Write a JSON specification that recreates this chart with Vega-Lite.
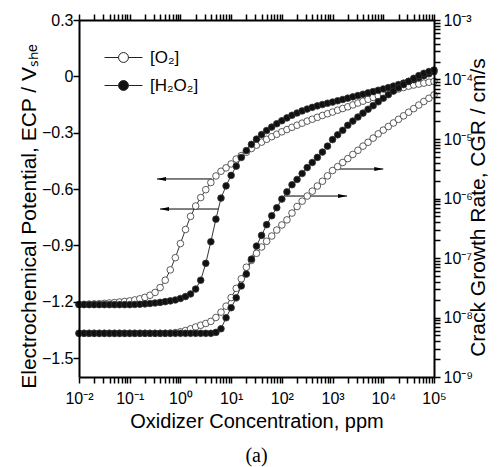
{
  "$schema": "https://vega.github.io/schema/vega-lite/v6.json",
  "width": 355,
  "height": 357,
  "autosize": {"type": "none"},
  "padding": {"left": 79, "top": 20, "right": 67, "bottom": 90},
  "background": "white",
  "config": {
    "view": {"stroke": null},
    "font": "Liberation Sans",
    "axis": {"grid": false, "domainColor": "black", "domainWidth": 2, "labelColor": "black", "labelFont": "Liberation Sans", "labelFontSize": 16, "titleFont": "Liberation Sans", "titleFontWeight": "normal", "titleColor": "black", "labelOverlap": false, "labelFlush": false, "labelBound": false}
  },
  "title": {"text": "(a)", "orient": "bottom", "anchor": "middle", "font": "Liberation Serif", "fontSize": 20, "fontWeight": "normal", "color": "black", "offset": 15},
  "datasets": {
    "arrE": [
      {"from": 4.2, "to": 0.345, "v": -0.546},
      {"from": 5.5, "to": 0.396, "v": -0.706}
    ],
    "arrC": [
      {"from": 1172, "to": 10000, "v": 3.13e-6},
      {"from": 115.6, "to": 1932, "v": 1.1e-6}
    ],
    "curves": [
      {"x": 0.01, "g": "[O₂]", "e": -1.214, "c": 5.42e-9},
      {"x": 0.01259, "g": "[O₂]", "e": -1.213, "c": 5.42e-9},
      {"x": 0.01585, "g": "[O₂]", "e": -1.212, "c": 5.42e-9},
      {"x": 0.01995, "g": "[O₂]", "e": -1.211, "c": 5.42e-9},
      {"x": 0.02512, "g": "[O₂]", "e": -1.21, "c": 5.42e-9},
      {"x": 0.03162, "g": "[O₂]", "e": -1.208, "c": 5.42e-9},
      {"x": 0.03981, "g": "[O₂]", "e": -1.206, "c": 5.42e-9},
      {"x": 0.05012, "g": "[O₂]", "e": -1.204, "c": 5.42e-9},
      {"x": 0.0631, "g": "[O₂]", "e": -1.201, "c": 5.42e-9},
      {"x": 0.07943, "g": "[O₂]", "e": -1.198, "c": 5.42e-9},
      {"x": 0.1, "g": "[O₂]", "e": -1.195, "c": 5.42e-9},
      {"x": 0.1259, "g": "[O₂]", "e": -1.19, "c": 5.42e-9},
      {"x": 0.1585, "g": "[O₂]", "e": -1.184, "c": 5.42e-9},
      {"x": 0.1995, "g": "[O₂]", "e": -1.176, "c": 5.42e-9},
      {"x": 0.2512, "g": "[O₂]", "e": -1.165, "c": 5.42e-9},
      {"x": 0.3162, "g": "[O₂]", "e": -1.15, "c": 5.42e-9},
      {"x": 0.3981, "g": "[O₂]", "e": -1.124, "c": 5.42e-9},
      {"x": 0.5012, "g": "[O₂]", "e": -1.085, "c": 5.43e-9},
      {"x": 0.631, "g": "[O₂]", "e": -1.03, "c": 5.47e-9},
      {"x": 0.7943, "g": "[O₂]", "e": -0.965, "c": 5.56e-9},
      {"x": 1, "g": "[O₂]", "e": -0.89, "c": 5.75e-9},
      {"x": 1.259, "g": "[O₂]", "e": -0.815, "c": 6.03e-9},
      {"x": 1.585, "g": "[O₂]", "e": -0.745, "c": 6.46e-9},
      {"x": 1.995, "g": "[O₂]", "e": -0.69, "c": 6.92e-9},
      {"x": 2.512, "g": "[O₂]", "e": -0.645, "c": 7.41e-9},
      {"x": 3.162, "g": "[O₂]", "e": -0.603, "c": 7.94e-9},
      {"x": 3.981, "g": "[O₂]", "e": -0.565, "c": 8.61e-9},
      {"x": 5.012, "g": "[O₂]", "e": -0.53, "c": 1.0e-8},
      {"x": 6.31, "g": "[O₂]", "e": -0.505, "c": 1.23e-8},
      {"x": 7.943, "g": "[O₂]", "e": -0.487, "c": 1.55e-8},
      {"x": 10, "g": "[O₂]", "e": -0.466, "c": 2.16e-8},
      {"x": 12.59, "g": "[O₂]", "e": -0.44, "c": 3.09e-8},
      {"x": 15.85, "g": "[O₂]", "e": -0.422, "c": 4.47e-8},
      {"x": 19.95, "g": "[O₂]", "e": -0.404, "c": 7.0e-8},
      {"x": 25.12, "g": "[O₂]", "e": -0.384, "c": 9.12e-8},
      {"x": 31.62, "g": "[O₂]", "e": -0.366, "c": 1.2e-7},
      {"x": 39.81, "g": "[O₂]", "e": -0.35, "c": 1.53e-7},
      {"x": 50.12, "g": "[O₂]", "e": -0.335, "c": 1.91e-7},
      {"x": 63.1, "g": "[O₂]", "e": -0.321, "c": 2.34e-7},
      {"x": 79.43, "g": "[O₂]", "e": -0.308, "c": 2.95e-7},
      {"x": 100, "g": "[O₂]", "e": -0.295, "c": 3.59e-7},
      {"x": 125.9, "g": "[O₂]", "e": -0.283, "c": 4.37e-7},
      {"x": 158.5, "g": "[O₂]", "e": -0.271, "c": 5.69e-7},
      {"x": 199.5, "g": "[O₂]", "e": -0.26, "c": 7.33e-7},
      {"x": 251.2, "g": "[O₂]", "e": -0.249, "c": 9.02e-7},
      {"x": 316.2, "g": "[O₂]", "e": -0.238, "c": 1.1e-6},
      {"x": 398.1, "g": "[O₂]", "e": -0.228, "c": 1.33e-6},
      {"x": 501.2, "g": "[O₂]", "e": -0.218, "c": 1.62e-6},
      {"x": 631, "g": "[O₂]", "e": -0.208, "c": 1.95e-6},
      {"x": 794.3, "g": "[O₂]", "e": -0.199, "c": 2.4e-6},
      {"x": 1000, "g": "[O₂]", "e": -0.19, "c": 2.95e-6},
      {"x": 1259, "g": "[O₂]", "e": -0.18, "c": 3.43e-6},
      {"x": 1585, "g": "[O₂]", "e": -0.171, "c": 4.03e-6},
      {"x": 1995, "g": "[O₂]", "e": -0.162, "c": 4.68e-6},
      {"x": 2512, "g": "[O₂]", "e": -0.152, "c": 5.5e-6},
      {"x": 3162, "g": "[O₂]", "e": -0.142, "c": 6.46e-6},
      {"x": 3981, "g": "[O₂]", "e": -0.132, "c": 7.59e-6},
      {"x": 5012, "g": "[O₂]", "e": -0.122, "c": 8.81e-6},
      {"x": 6310, "g": "[O₂]", "e": -0.112, "c": 1.035e-5},
      {"x": 7943, "g": "[O₂]", "e": -0.103, "c": 1.22e-5},
      {"x": 10000, "g": "[O₂]", "e": -0.094, "c": 1.41e-5},
      {"x": 12590, "g": "[O₂]", "e": -0.085, "c": 1.62e-5},
      {"x": 15850, "g": "[O₂]", "e": -0.076, "c": 1.86e-5},
      {"x": 19950, "g": "[O₂]", "e": -0.067, "c": 2.14e-5},
      {"x": 25120, "g": "[O₂]", "e": -0.059, "c": 2.45e-5},
      {"x": 31620, "g": "[O₂]", "e": -0.052, "c": 2.82e-5},
      {"x": 39810, "g": "[O₂]", "e": -0.046, "c": 3.24e-5},
      {"x": 50120, "g": "[O₂]", "e": -0.041, "c": 3.72e-5},
      {"x": 63100, "g": "[O₂]", "e": -0.036, "c": 4.27e-5},
      {"x": 79430, "g": "[O₂]", "e": -0.031, "c": 4.84e-5},
      {"x": 100000, "g": "[O₂]", "e": -0.027, "c": 5.5e-5},
      {"x": 0.01, "g": "[H₂O₂]", "e": -1.215, "c": 5.42e-9},
      {"x": 0.01259, "g": "[H₂O₂]", "e": -1.215, "c": 5.42e-9},
      {"x": 0.01585, "g": "[H₂O₂]", "e": -1.215, "c": 5.42e-9},
      {"x": 0.01995, "g": "[H₂O₂]", "e": -1.215, "c": 5.42e-9},
      {"x": 0.02512, "g": "[H₂O₂]", "e": -1.215, "c": 5.42e-9},
      {"x": 0.03162, "g": "[H₂O₂]", "e": -1.215, "c": 5.42e-9},
      {"x": 0.03981, "g": "[H₂O₂]", "e": -1.215, "c": 5.42e-9},
      {"x": 0.05012, "g": "[H₂O₂]", "e": -1.215, "c": 5.42e-9},
      {"x": 0.0631, "g": "[H₂O₂]", "e": -1.215, "c": 5.42e-9},
      {"x": 0.07943, "g": "[H₂O₂]", "e": -1.215, "c": 5.42e-9},
      {"x": 0.1, "g": "[H₂O₂]", "e": -1.215, "c": 5.42e-9},
      {"x": 0.1259, "g": "[H₂O₂]", "e": -1.214, "c": 5.42e-9},
      {"x": 0.1585, "g": "[H₂O₂]", "e": -1.213, "c": 5.42e-9},
      {"x": 0.1995, "g": "[H₂O₂]", "e": -1.211, "c": 5.42e-9},
      {"x": 0.2512, "g": "[H₂O₂]", "e": -1.209, "c": 5.42e-9},
      {"x": 0.3162, "g": "[H₂O₂]", "e": -1.206, "c": 5.42e-9},
      {"x": 0.3981, "g": "[H₂O₂]", "e": -1.203, "c": 5.42e-9},
      {"x": 0.5012, "g": "[H₂O₂]", "e": -1.199, "c": 5.42e-9},
      {"x": 0.631, "g": "[H₂O₂]", "e": -1.195, "c": 5.42e-9},
      {"x": 0.7943, "g": "[H₂O₂]", "e": -1.19, "c": 5.42e-9},
      {"x": 1, "g": "[H₂O₂]", "e": -1.182, "c": 5.42e-9},
      {"x": 1.259, "g": "[H₂O₂]", "e": -1.172, "c": 5.42e-9},
      {"x": 1.585, "g": "[H₂O₂]", "e": -1.158, "c": 5.42e-9},
      {"x": 1.995, "g": "[H₂O₂]", "e": -1.132, "c": 5.42e-9},
      {"x": 2.512, "g": "[H₂O₂]", "e": -1.085, "c": 5.42e-9},
      {"x": 3.162, "g": "[H₂O₂]", "e": -0.995, "c": 5.42e-9},
      {"x": 3.981, "g": "[H₂O₂]", "e": -0.88, "c": 5.42e-9},
      {"x": 5.012, "g": "[H₂O₂]", "e": -0.76, "c": 5.62e-9},
      {"x": 6.31, "g": "[H₂O₂]", "e": -0.648, "c": 6.46e-9},
      {"x": 7.943, "g": "[H₂O₂]", "e": -0.583, "c": 9.89e-9},
      {"x": 10, "g": "[H₂O₂]", "e": -0.527, "c": 1.46e-8},
      {"x": 12.59, "g": "[H₂O₂]", "e": -0.478, "c": 2.14e-8},
      {"x": 15.85, "g": "[H₂O₂]", "e": -0.432, "c": 3.39e-8},
      {"x": 19.95, "g": "[H₂O₂]", "e": -0.395, "c": 5.37e-8},
      {"x": 25.12, "g": "[H₂O₂]", "e": -0.362, "c": 9.55e-8},
      {"x": 31.62, "g": "[H₂O₂]", "e": -0.334, "c": 1.585e-7},
      {"x": 39.81, "g": "[H₂O₂]", "e": -0.31, "c": 2.4e-7},
      {"x": 50.12, "g": "[H₂O₂]", "e": -0.288, "c": 3.63e-7},
      {"x": 63.1, "g": "[H₂O₂]", "e": -0.27, "c": 5.13e-7},
      {"x": 79.43, "g": "[H₂O₂]", "e": -0.252, "c": 7.0e-7},
      {"x": 100, "g": "[H₂O₂]", "e": -0.236, "c": 9.77e-7},
      {"x": 125.9, "g": "[H₂O₂]", "e": -0.221, "c": 1.29e-6},
      {"x": 158.5, "g": "[H₂O₂]", "e": -0.207, "c": 1.7e-6},
      {"x": 199.5, "g": "[H₂O₂]", "e": -0.195, "c": 2.09e-6},
      {"x": 251.2, "g": "[H₂O₂]", "e": -0.184, "c": 2.63e-6},
      {"x": 316.2, "g": "[H₂O₂]", "e": -0.174, "c": 3.31e-6},
      {"x": 398.1, "g": "[H₂O₂]", "e": -0.165, "c": 4.03e-6},
      {"x": 501.2, "g": "[H₂O₂]", "e": -0.157, "c": 4.9e-6},
      {"x": 631, "g": "[H₂O₂]", "e": -0.15, "c": 6.03e-6},
      {"x": 794.3, "g": "[H₂O₂]", "e": -0.143, "c": 7.59e-6},
      {"x": 1000, "g": "[H₂O₂]", "e": -0.137, "c": 9.77e-6},
      {"x": 1259, "g": "[H₂O₂]", "e": -0.13, "c": 1.175e-5},
      {"x": 1585, "g": "[H₂O₂]", "e": -0.123, "c": 1.4e-5},
      {"x": 1995, "g": "[H₂O₂]", "e": -0.116, "c": 1.7e-5},
      {"x": 2512, "g": "[H₂O₂]", "e": -0.109, "c": 2.0e-5},
      {"x": 3162, "g": "[H₂O₂]", "e": -0.102, "c": 2.34e-5},
      {"x": 3981, "g": "[H₂O₂]", "e": -0.095, "c": 2.72e-5},
      {"x": 5012, "g": "[H₂O₂]", "e": -0.088, "c": 3.16e-5},
      {"x": 6310, "g": "[H₂O₂]", "e": -0.081, "c": 3.63e-5},
      {"x": 7943, "g": "[H₂O₂]", "e": -0.074, "c": 4.22e-5},
      {"x": 10000, "g": "[H₂O₂]", "e": -0.067, "c": 4.84e-5},
      {"x": 12590, "g": "[H₂O₂]", "e": -0.06, "c": 5.56e-5},
      {"x": 15850, "g": "[H₂O₂]", "e": -0.052, "c": 6.38e-5},
      {"x": 19950, "g": "[H₂O₂]", "e": -0.044, "c": 7.24e-5},
      {"x": 25120, "g": "[H₂O₂]", "e": -0.036, "c": 8.22e-5},
      {"x": 31620, "g": "[H₂O₂]", "e": -0.027, "c": 9.33e-5},
      {"x": 39810, "g": "[H₂O₂]", "e": -0.018, "c": 1.047e-4},
      {"x": 50120, "g": "[H₂O₂]", "e": -0.008, "c": 1.16e-4},
      {"x": 63100, "g": "[H₂O₂]", "e": 0.003, "c": 1.27e-4},
      {"x": 79430, "g": "[H₂O₂]", "e": 0.014, "c": 1.36e-4},
      {"x": 100000, "g": "[H₂O₂]", "e": 0.025, "c": 1.445e-4}
    ]
  },
  "layer": [
    {
      "layer": [
        {
          "data": {"name": "arrE"},
          "mark": {"type": "rule", "color": "black", "strokeWidth": 1},
          "encoding": {
            "x": {"field": "from", "type": "quantitative", "scale": {"type": "log", "domain": [0.01, 100000], "nice": false}},
            "x2": {"field": "to"},
            "y": {"field": "v", "type": "quantitative", "scale": {"domain": [-1.6, 0.3], "nice": false, "zero": false}}
          }
        },
        {
          "data": {"name": "arrE"},
          "mark": {"type": "point", "shape": "M0,0L2,-0.45L2,0.45Z", "size": 81, "filled": true, "color": "black", "opacity": 1},
          "encoding": {
            "x": {"field": "to", "type": "quantitative", "scale": {"type": "log", "domain": [0.01, 100000], "nice": false}},
            "y": {"field": "v", "type": "quantitative", "scale": {"domain": [-1.6, 0.3], "nice": false, "zero": false}}
          }
        },
        {
          "data": {"name": "curves"},
          "mark": {"type": "line", "color": "black", "strokeWidth": 0.8},
          "encoding": {
            "x": {"field": "x", "type": "quantitative", "scale": {"type": "log", "domain": [0.01, 100000], "nice": false}},
            "y": {"field": "e", "type": "quantitative", "scale": {"domain": [-1.6, 0.3], "nice": false, "zero": false}},
            "detail": {"field": "g", "type": "nominal"}
          }
        },
        {
          "data": {"name": "curves"},
          "mark": {"type": "point", "filled": true, "size": 44, "stroke": "#333", "strokeWidth": 0.8, "opacity": 1},
          "encoding": {
            "x": {"field": "x", "type": "quantitative", "scale": {"type": "log", "domain": [0.01, 100000], "nice": false},
              "axis": {"orient": "bottom", "values": [0.01,0.02,0.03,0.04,0.05,0.06,0.07,0.08,0.09,0.1,0.2,0.3,0.4,0.5,0.6,0.7,0.8,0.9,1,2,3,4,5,6,7,8,9,10,20,30,40,50,60,70,80,90,100,200,300,400,500,600,700,800,900,1000,2000,3000,4000,5000,6000,7000,8000,9000,10000,20000,30000,40000,50000,60000,70000,80000,90000,100000],
                "labelExpr": "abs(log(datum.value)/LN10 - round(log(datum.value)/LN10)) < 0.001 ? '10' + (round(log(datum.value)/LN10) < 0 ? '⁻' : '') + ['⁰','¹','²','³','⁴','⁵','⁶','⁷','⁸','⁹'][abs(round(log(datum.value)/LN10))] : ''",
                "ticks": true, "tickColor": "black", "tickWidth": 1.5, "tickSize": 6, "zindex": 1,
                "encode": {"ticks": {"update": {"y2": {"signal": "abs(log(datum.value)/LN10 - round(log(datum.value)/LN10)) < 0.001 ? -6 : -3"}}}},
                "labelPadding": 7,
                "title": "Oxidizer Concentration, ppm", "titleFontSize": 20, "titleY": 50, "titleBaseline": "alphabetic"}},
            "y": {"field": "e", "type": "quantitative", "scale": {"domain": [-1.6, 0.3], "nice": false, "zero": false},
              "axis": {"orient": "left", "values": [-1.5,-1.35,-1.2,-1.05,-0.9,-0.75,-0.6,-0.45,-0.3,-0.15,0,0.15,0.3],
                "labelExpr": "abs(datum.value*10/3 - round(datum.value*10/3)) < 0.01 ? (datum.value == 0 ? '0' : format(datum.value, '.1f')) : ''",
                "ticks": true, "tickColor": "black", "tickWidth": 1.5, "tickSize": 6, "zindex": 1,
                "encode": {"ticks": {"update": {"x2": {"signal": "abs(datum.value*10/3 - round(datum.value*10/3)) < 0.01 ? 6 : 4"}}}},
                "labelPadding": 0,
                "title": "Electrochemical Potential, ECP / Vₛₕₑ", "titleFontSize": 21, "titleAngle": -90, "titleX": -44, "titleY": 196, "titleBaseline": "alphabetic"}},
            "fill": {"field": "g", "type": "nominal", "scale": {"domain": ["[O₂]", "[H₂O₂]"], "range": ["white", "#111"]},
              "legend": {"orient": "none", "legendX": 25, "legendY": 18, "title": null, "symbolType": "M-1,0H-0.26M0.26,0H1M0.26,0A0.26,0.26 0 1 1 -0.26,0A0.26,0.26 0 1 1 0.26,0Z", "symbolSize": 1444, "symbolStrokeColor": "#222", "symbolStrokeWidth": 1, "labelFont": "Liberation Sans", "labelFontSize": 17, "labelColor": "black", "labelOffset": 7, "rowPadding": -11}}
          }
        }
      ]
    },
    {
      "layer": [
        {
          "data": {"name": "arrC"},
          "mark": {"type": "rule", "color": "black", "strokeWidth": 1},
          "encoding": {
            "x": {"field": "from", "type": "quantitative", "scale": {"type": "log", "domain": [0.01, 100000], "nice": false}},
            "x2": {"field": "to"},
            "y": {"field": "v", "type": "quantitative", "scale": {"type": "log", "domain": [1e-9, 1e-3], "nice": false}}
          }
        },
        {
          "data": {"name": "arrC"},
          "mark": {"type": "point", "shape": "M0,0L-2,-0.45L-2,0.45Z", "size": 81, "filled": true, "color": "black", "opacity": 1},
          "encoding": {
            "x": {"field": "to", "type": "quantitative", "scale": {"type": "log", "domain": [0.01, 100000], "nice": false}},
            "y": {"field": "v", "type": "quantitative", "scale": {"type": "log", "domain": [1e-9, 1e-3], "nice": false}}
          }
        },
        {
          "data": {"name": "curves"},
          "mark": {"type": "line", "color": "black", "strokeWidth": 0.8},
          "encoding": {
            "x": {"field": "x", "type": "quantitative", "scale": {"type": "log", "domain": [0.01, 100000], "nice": false}},
            "y": {"field": "c", "type": "quantitative", "scale": {"type": "log", "domain": [1e-9, 1e-3], "nice": false}},
            "detail": {"field": "g", "type": "nominal"}
          }
        },
        {
          "data": {"name": "curves"},
          "mark": {"type": "point", "filled": true, "size": 44, "stroke": "#333", "strokeWidth": 0.8, "opacity": 1},
          "encoding": {
            "x": {"field": "x", "type": "quantitative", "scale": {"type": "log", "domain": [0.01, 100000], "nice": false},
              "axis": {"orient": "top", "values": [0.01,0.02,0.03,0.04,0.05,0.06,0.07,0.08,0.09,0.1,0.2,0.3,0.4,0.5,0.6,0.7,0.8,0.9,1,2,3,4,5,6,7,8,9,10,20,30,40,50,60,70,80,90,100,200,300,400,500,600,700,800,900,1000,2000,3000,4000,5000,6000,7000,8000,9000,10000,20000,30000,40000,50000,60000,70000,80000,90000,100000],
                "labels": false,
                "ticks": true, "tickColor": "black", "tickWidth": 1.5, "tickSize": 6, "zindex": 1,
                "encode": {"ticks": {"update": {"y2": {"signal": "abs(log(datum.value)/LN10 - round(log(datum.value)/LN10)) < 0.001 ? 6 : 3"}}}},
                "title": null}},
            "y": {"field": "c", "type": "quantitative", "scale": {"type": "log", "domain": [1e-9, 1e-3], "nice": false},
              "axis": {"orient": "right", "values": [1e-9,2e-9,3e-9,4e-9,5e-9,6e-9,7e-9,8e-9,9e-9,1e-8,2e-8,3e-8,4e-8,5e-8,6e-8,7e-8,8e-8,9e-8,1e-7,2e-7,3e-7,4e-7,5e-7,6e-7,7e-7,8e-7,9e-7,1e-6,2e-6,3e-6,4e-6,5e-6,6e-6,7e-6,8e-6,9e-6,1e-5,2e-5,3e-5,4e-5,5e-5,6e-5,7e-5,8e-5,9e-5,1e-4,2e-4,3e-4,4e-4,5e-4,6e-4,7e-4,8e-4,9e-4,1e-3],
                "labelExpr": "abs(log(datum.value)/LN10 - round(log(datum.value)/LN10)) < 0.001 ? '10' + (round(log(datum.value)/LN10) < 0 ? '⁻' : '') + ['⁰','¹','²','³','⁴','⁵','⁶','⁷','⁸','⁹'][abs(round(log(datum.value)/LN10))] : ''",
                "ticks": true, "tickColor": "black", "tickWidth": 1.5, "tickSize": 6, "zindex": 1,
                "encode": {"ticks": {"update": {"x2": {"signal": "abs(log(datum.value)/LN10 - round(log(datum.value)/LN10)) < 0.001 ? -6 : -3"}}}},
                "labelPadding": 3,
                "title": "Crack Growth Rate, CGR / cm/s", "titleFontSize": 21, "titleAngle": -90, "titleX": 50, "titleY": 187, "titleBaseline": "alphabetic"}},
            "fill": {"field": "g", "type": "nominal", "scale": {"domain": ["[O₂]", "[H₂O₂]"], "range": ["white", "#111"]}, "legend": null}
          }
        }
      ]
    }
  ],
  "resolve": {"scale": {"y": "independent"}, "axis": {"x": "independent", "y": "independent"}}
}
